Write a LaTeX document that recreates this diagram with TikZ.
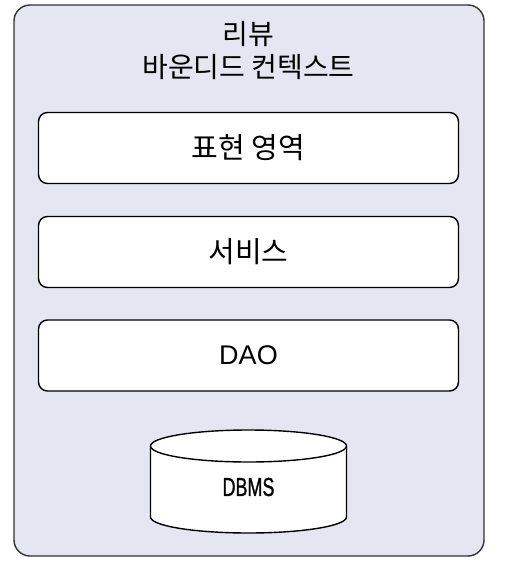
\documentclass[tikz,border=0pt]{standalone}
\usepackage{fontspec}
\setmainfont{Noto Sans CJK KR}
\newfontfamily\latinfont{Liberation Sans}
\newfontfamily\dbfont[FakeBold=1.2]{Liberation Sans}
\definecolor{outerfill}{HTML}{E6E6F2}
\definecolor{edge}{HTML}{333333}
\begin{document}
\begin{tikzpicture}[x=1pt,y=-1pt,
  layerbox/.style={draw=black,line width=1.4pt,fill=white,rounded corners=9pt,minimum width=420pt,minimum height=71pt,inner sep=0pt,font=\fontsize{29}{34}\selectfont},
  dbline/.style={draw=black,line width=1.4pt}]
\useasboundingbox (0,0) rectangle (504,584);
\draw[draw=edge,line width=1.4pt,fill=outerfill,rounded corners=16pt] (14,5) rectangle (484,556);
\node[align=center,font=\fontsize{28}{33}\selectfont] (title) at (248.5,51) {리뷰\\바운디드 컨텍스트};
\node[layerbox] (pres) at (248.5,148) {표현 영역};
\node[layerbox] (svc) at (248.5,252) {서비스};
\node[layerbox] (dao) at (248.5,355.5) {\latinfont\fontsize{27}{32}\selectfont DAO};
% cylinder
\fill[white] (150.5,446) -- (150.5,517) arc[start angle=180,end angle=360,x radius=98pt,y radius=16pt] -- (346.5,446) arc[start angle=0,end angle=180,x radius=98pt,y radius=16pt] -- cycle;
\draw[dbline] (150.5,446) -- (150.5,517) arc[start angle=180,end angle=360,x radius=98pt,y radius=16pt] -- (346.5,446);
\draw[dbline] (248.5,446) ellipse[x radius=98pt,y radius=16pt];
\node[font=\dbfont\fontsize{26}{30}\selectfont] (db) at (248.5,487) {\scalebox{0.69}[1]{DBMS}};
\end{tikzpicture}
\end{document}
